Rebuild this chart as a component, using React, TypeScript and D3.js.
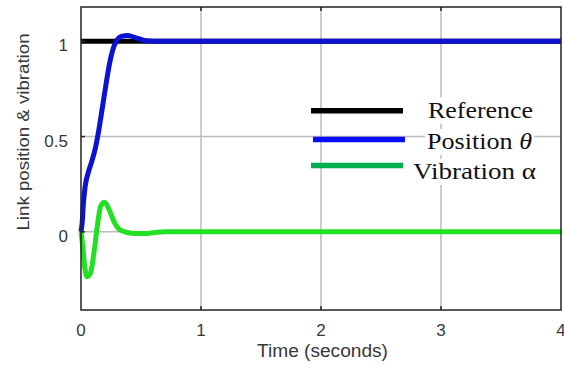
import { useRef, useEffect } from 'react';
import * as d3 from 'd3';

const timeTheta = [0, 0.01, 0.02, 0.035, 0.06, 0.09, 0.12, 0.15, 0.18, 0.21, 0.24, 0.267, 0.294, 0.336, 0.39, 0.46, 0.53, 0.6, 1, 2, 3, 4];
const theta = [0, 0.05, 0.15, 0.24, 0.31, 0.37, 0.44, 0.54, 0.66, 0.78, 0.89, 0.96, 1.0, 1.026, 1.03, 1.018, 1.004, 1, 1, 1, 1, 1];

const timeAlpha = [0, 0.017, 0.03, 0.052, 0.08, 0.108, 0.136, 0.164, 0.197, 0.24, 0.28, 0.32, 0.378, 0.45, 0.53, 0.62, 0.7, 1, 2, 3, 4];
const alpha = [0, -0.09, -0.18, -0.235, -0.215, -0.11, 0.03, 0.135, 0.155, 0.108, 0.047, 0.012, -0.002, -0.009, -0.009, -0.003, 0, 0, 0, 0, 0];

const timeRef = [0, 4];
const reference = [1, 1];

const xTicks = [0, 1, 2, 3, 4];
const yTicks = [0, 0.5, 1];

const legendLabels = ['Reference', 'Position', 'Vibration α'];

const W = 564;
const H = 381;
const plot = { left: 81, right: 561, top: 7, bottom: 310 };

export default function App() {
  const svgRef = useRef<SVGSVGElement>(null);

  useEffect(() => {
    if (!svgRef.current) return;
    const svg = d3.select(svgRef.current);
    svg.selectAll('*').remove();

    const x = d3.scaleLinear().domain([0, 4]).range([plot.left, plot.right]);
    const y = d3.scaleLinear().domain([-0.41, 1.18]).range([plot.bottom, plot.top]);

    svg.append('rect').attr('width', W).attr('height', H).attr('fill', '#fff');

    // grid
    svg.selectAll('.vgrid')
      .data(xTicks.slice(1, -1))
      .enter()
      .append('line')
      .attr('x1', (d) => x(d))
      .attr('x2', (d) => x(d))
      .attr('y1', plot.top)
      .attr('y2', plot.bottom)
      .attr('stroke', '#bdbdbd')
      .attr('stroke-width', 1.5);

    svg.selectAll('.hgrid')
      .data(yTicks)
      .enter()
      .append('line')
      .attr('x1', plot.left)
      .attr('x2', plot.right)
      .attr('y1', (d) => y(d))
      .attr('y2', (d) => y(d))
      .attr('stroke', '#bdbdbd')
      .attr('stroke-width', 1.5);

    const line = (ts: number[], vs: number[]) =>
      d3.line<number>()
        .x((_, i) => x(ts[i]))
        .y((d) => y(d))
        .curve(d3.curveMonotoneX)(vs);

    svg.append('path').attr('d', line(timeRef, reference)).attr('fill', 'none')
      .attr('stroke', '#000').attr('stroke-width', 5);
    svg.append('path').attr('d', line(timeTheta, theta)).attr('fill', 'none')
      .attr('stroke', '#0c12d2').attr('stroke-width', 5).attr('stroke-linejoin', 'round');
    svg.append('path').attr('d', line(timeAlpha, alpha)).attr('fill', 'none')
      .attr('stroke', '#22e022').attr('stroke-width', 5).attr('stroke-linejoin', 'round');

    // frame + ticks
    svg.append('rect')
      .attr('x', plot.left).attr('y', plot.top)
      .attr('width', plot.right - plot.left).attr('height', plot.bottom - plot.top)
      .attr('fill', 'none').attr('stroke', '#222').attr('stroke-width', 1.5);

    xTicks.slice(1, -1).forEach((t) => {
      svg.append('line').attr('x1', x(t)).attr('x2', x(t)).attr('y1', plot.top).attr('y2', plot.top + 4)
        .attr('stroke', '#222').attr('stroke-width', 1.5);
      svg.append('line').attr('x1', x(t)).attr('x2', x(t)).attr('y1', plot.bottom).attr('y2', plot.bottom - 4)
        .attr('stroke', '#222').attr('stroke-width', 1.5);
    });
    yTicks.forEach((v) => {
      svg.append('line').attr('x1', plot.left).attr('x2', plot.left + 4).attr('y1', y(v)).attr('y2', y(v))
        .attr('stroke', '#222').attr('stroke-width', 1.5);
    });

    const sans = 'Liberation Sans, Arial, sans-serif';
    const serif = 'Liberation Serif, Times New Roman, serif';

    // tick labels
    svg.selectAll('.xlab')
      .data(xTicks)
      .enter()
      .append('text')
      .attr('x', (d) => x(d))
      .attr('y', 336)
      .attr('text-anchor', 'middle')
      .attr('font-family', sans)
      .attr('font-size', 17)
      .attr('fill', '#383838')
      .text((d) => String(d));

    svg.selectAll('.ylab')
      .data(yTicks)
      .enter()
      .append('text')
      .attr('x', 68)
      .attr('y', (d) => y(d) + 10)
      .attr('text-anchor', 'end')
      .attr('font-family', sans)
      .attr('font-size', 17)
      .attr('fill', '#383838')
      .text((d) => String(d));

    svg.append('text')
      .attr('x', 257).attr('y', 357)
      .attr('font-family', sans).attr('font-size', 18).attr('fill', '#383838')
      .attr('textLength', 131).attr('lengthAdjust', 'spacingAndGlyphs')
      .text('Time (seconds)');

    svg.append('text')
      .attr('transform', 'translate(29,132) rotate(-90)')
      .attr('text-anchor', 'middle')
      .attr('font-family', sans).attr('font-size', 17).attr('fill', '#383838')
      .attr('textLength', 197).attr('lengthAdjust', 'spacingAndGlyphs')
      .text('Link position & vibration');

    // legend
    const legendColors = ['#000', '#0a0aff', '#00b050'];
    const legendLineY = [110.7, 139.5, 165.5];
    const legendLineX = [[311, 403], [313, 405], [311, 403]];
    const legendTextX = [428, 427, 413];
    const legendTextY = [117.5, 149, 179];
    const legendTextW = [105, 105, 123];

    legendLabels.forEach((label, i) => {
      svg.append('line')
        .attr('x1', legendLineX[i][0]).attr('x2', legendLineX[i][1])
        .attr('y1', legendLineY[i]).attr('y2', legendLineY[i])
        .attr('stroke', legendColors[i]).attr('stroke-width', 5.5);

      svg.append('rect')
        .attr('x', legendTextX[i] - 2).attr('y', legendTextY[i] - 20)
        .attr('width', legendTextW[i] + 4).attr('height', 26)
        .attr('fill', '#fff');

      const t = svg.append('text')
        .attr('x', legendTextX[i]).attr('y', legendTextY[i])
        .attr('font-family', serif).attr('font-size', 24).attr('fill', '#111')
        .attr('textLength', legendTextW[i]).attr('lengthAdjust', 'spacingAndGlyphs');
      if (i === 1) {
        t.append('tspan').text(label + ' ');
        t.append('tspan').attr('font-style', 'italic').text('θ');
      } else {
        t.text(label);
      }
    });
  }, []);

  return (
    <svg
      ref={svgRef}
      width={W}
      height={H}
      style={{ position: 'absolute', left: 0, top: 0, display: 'block' }}
    />
  );
}
